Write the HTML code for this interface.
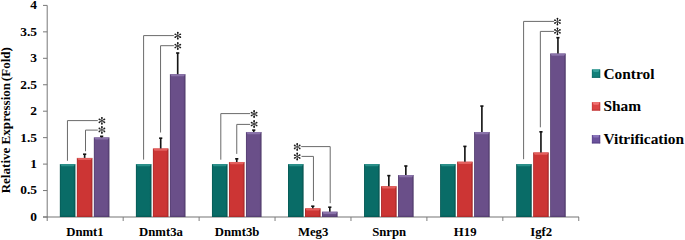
<!DOCTYPE html>
<html><head><meta charset="utf-8"><style>
html,body{margin:0;padding:0;background:#fff;width:685px;height:240px;overflow:hidden;}
svg{display:block;}
text{font-family:"Liberation Serif",serif;font-weight:bold;fill:#000;}
.yt{font-size:12px;}
.xt{font-size:12.5px;}
.ttl{font-size:12px;}
.lg{font-size:15.4px;}
</style></head><body>
<svg width="685" height="240" viewBox="0 0 685 240">
<defs><linearGradient id="gteal" x1="0" x2="1" y1="0" y2="0">
<stop offset="0" stop-color="#05504c"/><stop offset="0.07" stop-color="#096c67"/>
<stop offset="0.86" stop-color="#096c67"/><stop offset="1" stop-color="#05504c"/></linearGradient><linearGradient id="gred" x1="0" x2="1" y1="0" y2="0">
<stop offset="0" stop-color="#9e2626"/><stop offset="0.07" stop-color="#cc3534"/>
<stop offset="0.86" stop-color="#cc3534"/><stop offset="1" stop-color="#9e2626"/></linearGradient><linearGradient id="gpur" x1="0" x2="1" y1="0" y2="0">
<stop offset="0" stop-color="#4b3766"/><stop offset="0.07" stop-color="#6a4f89"/>
<stop offset="0.86" stop-color="#6a4f89"/><stop offset="1" stop-color="#4b3766"/></linearGradient><g id="st"><polygon points="-0.25,-0.00 0.25,0.00 0.55,-3.00 -0.55,-3.00" fill="#111"/><circle cx="0.00" cy="-3.00" r="0.9" fill="#111"/><polygon points="-0.12,-0.22 0.12,0.22 2.83,-1.00 2.28,-1.95" fill="#222"/><circle cx="2.55" cy="-1.47" r="0.85" fill="#222"/><polygon points="-0.12,0.22 0.12,-0.22 -2.28,-1.95 -2.83,-1.00" fill="#222"/><circle cx="-2.55" cy="-1.47" r="0.85" fill="#222"/><polygon points="0.13,0.22 -0.13,-0.22 -2.83,1.00 -2.28,1.95" fill="#222"/><circle cx="-2.55" cy="1.48" r="0.85" fill="#222"/><polygon points="0.25,0.00 -0.25,-0.00 -0.55,3.00 0.55,3.00" fill="#111"/><circle cx="-0.00" cy="3.00" r="0.9" fill="#111"/><polygon points="0.13,-0.22 -0.13,0.22 2.28,1.95 2.83,1.00" fill="#222"/><circle cx="2.55" cy="1.48" r="0.85" fill="#222"/></g></defs>
<line x1="43" y1="217.00" x2="579.0" y2="217.00" stroke="#a2a2a2" stroke-width="1.3"/><line x1="47.2" y1="5.40" x2="47.2" y2="221" stroke="#777777" stroke-width="1"/><line x1="43" y1="217.00" x2="47.2" y2="217.00" stroke="#777777" stroke-width="1"/><line x1="43" y1="190.55" x2="47.2" y2="190.55" stroke="#777777" stroke-width="1"/><line x1="43" y1="164.10" x2="47.2" y2="164.10" stroke="#777777" stroke-width="1"/><line x1="43" y1="137.65" x2="47.2" y2="137.65" stroke="#777777" stroke-width="1"/><line x1="43" y1="111.20" x2="47.2" y2="111.20" stroke="#777777" stroke-width="1"/><line x1="43" y1="84.75" x2="47.2" y2="84.75" stroke="#777777" stroke-width="1"/><line x1="43" y1="58.30" x2="47.2" y2="58.30" stroke="#777777" stroke-width="1"/><line x1="43" y1="31.85" x2="47.2" y2="31.85" stroke="#777777" stroke-width="1"/><line x1="43" y1="5.40" x2="47.2" y2="5.40" stroke="#777777" stroke-width="1"/><line x1="123.18" y1="217.00" x2="123.18" y2="221" stroke="#7e7e7e" stroke-width="1"/><line x1="199.11" y1="217.00" x2="199.11" y2="221" stroke="#7e7e7e" stroke-width="1"/><line x1="275.04" y1="217.00" x2="275.04" y2="221" stroke="#7e7e7e" stroke-width="1"/><line x1="350.97" y1="217.00" x2="350.97" y2="221" stroke="#7e7e7e" stroke-width="1"/><line x1="426.90" y1="217.00" x2="426.90" y2="221" stroke="#7e7e7e" stroke-width="1"/><line x1="502.83" y1="217.00" x2="502.83" y2="221" stroke="#7e7e7e" stroke-width="1"/><line x1="578.76" y1="217.00" x2="578.76" y2="221" stroke="#7e7e7e" stroke-width="1"/>
<rect x="59.84" y="164.10" width="15.6" height="52.90" fill="url(#gteal)"/><polygon points="60.14,164.10 75.14,164.10 73.84,166.30 61.45,166.30" fill="#2a8f89"/><polygon points="60.14,217.00 75.14,217.00 74.04,215.80 61.24,215.80" fill="#05504c" opacity="0.6"/><rect x="76.84" y="157.91" width="15.6" height="59.09" fill="url(#gred)"/><polygon points="77.14,157.91 92.14,157.91 90.84,160.11 78.44,160.11" fill="#e3605e"/><polygon points="77.14,217.00 92.14,217.00 91.04,215.80 78.25,215.80" fill="#9e2626" opacity="0.6"/><rect x="93.84" y="137.39" width="15.6" height="79.61" fill="url(#gpur)"/><polygon points="94.14,137.39 109.14,137.39 107.84,139.59 95.44,139.59" fill="#8a73aa"/><polygon points="94.14,217.00 109.14,217.00 108.04,215.80 95.25,215.80" fill="#4b3766" opacity="0.6"/><line x1="84.64" y1="154.21" x2="84.64" y2="157.91" stroke="#161616" stroke-width="1.65"/><line x1="83.05" y1="154.21" x2="86.24" y2="154.21" stroke="#111" stroke-width="1.6"/><line x1="101.64" y1="136.33" x2="101.64" y2="137.39" stroke="#161616" stroke-width="1.65"/><line x1="100.05" y1="136.33" x2="103.24" y2="136.33" stroke="#111" stroke-width="1.6"/><rect x="135.90" y="164.10" width="15.6" height="52.90" fill="url(#gteal)"/><polygon points="136.20,164.10 151.19,164.10 149.90,166.30 137.50,166.30" fill="#2a8f89"/><polygon points="136.20,217.00 151.19,217.00 150.09,215.80 137.30,215.80" fill="#05504c" opacity="0.6"/><rect x="152.90" y="148.49" width="15.6" height="68.51" fill="url(#gred)"/><polygon points="153.20,148.49 168.19,148.49 166.90,150.69 154.50,150.69" fill="#e3605e"/><polygon points="153.20,217.00 168.19,217.00 167.09,215.80 154.30,215.80" fill="#9e2626" opacity="0.6"/><rect x="169.90" y="74.17" width="15.6" height="142.83" fill="url(#gpur)"/><polygon points="170.20,74.17 185.19,74.17 183.90,76.37 171.50,76.37" fill="#8a73aa"/><polygon points="170.20,217.00 185.19,217.00 184.09,215.80 171.30,215.80" fill="#4b3766" opacity="0.6"/><line x1="160.70" y1="138.18" x2="160.70" y2="148.49" stroke="#161616" stroke-width="1.65"/><line x1="159.10" y1="138.18" x2="162.30" y2="138.18" stroke="#111" stroke-width="1.6"/><line x1="177.70" y1="53.01" x2="177.70" y2="74.17" stroke="#161616" stroke-width="1.65"/><line x1="176.10" y1="53.01" x2="179.30" y2="53.01" stroke="#111" stroke-width="1.6"/><rect x="211.95" y="164.10" width="15.6" height="52.90" fill="url(#gteal)"/><polygon points="212.25,164.10 227.25,164.10 225.95,166.30 213.55,166.30" fill="#2a8f89"/><polygon points="212.25,217.00 227.25,217.00 226.15,215.80 213.35,215.80" fill="#05504c" opacity="0.6"/><rect x="228.95" y="161.98" width="15.6" height="55.02" fill="url(#gred)"/><polygon points="229.25,161.98 244.25,161.98 242.95,164.18 230.55,164.18" fill="#e3605e"/><polygon points="229.25,217.00 244.25,217.00 243.15,215.80 230.35,215.80" fill="#9e2626" opacity="0.6"/><rect x="245.95" y="131.99" width="15.6" height="85.01" fill="url(#gpur)"/><polygon points="246.25,131.99 261.25,131.99 259.94,134.19 247.55,134.19" fill="#8a73aa"/><polygon points="246.25,217.00 261.25,217.00 260.15,215.80 247.35,215.80" fill="#4b3766" opacity="0.6"/><line x1="236.75" y1="158.81" x2="236.75" y2="161.98" stroke="#161616" stroke-width="1.65"/><line x1="235.15" y1="158.81" x2="238.35" y2="158.81" stroke="#111" stroke-width="1.6"/><line x1="253.75" y1="130.14" x2="253.75" y2="131.99" stroke="#161616" stroke-width="1.65"/><line x1="252.15" y1="130.14" x2="255.35" y2="130.14" stroke="#111" stroke-width="1.6"/><rect x="288.00" y="164.10" width="15.6" height="52.90" fill="url(#gteal)"/><polygon points="288.30,164.10 303.30,164.10 302.00,166.30 289.60,166.30" fill="#2a8f89"/><polygon points="288.30,217.00 303.30,217.00 302.20,215.80 289.39,215.80" fill="#05504c" opacity="0.6"/><rect x="305.00" y="208.32" width="15.6" height="8.68" fill="url(#gred)"/><polygon points="305.30,208.32 320.30,208.32 319.00,210.52 306.60,210.52" fill="#e3605e"/><polygon points="305.30,217.00 320.30,217.00 319.20,215.80 306.39,215.80" fill="#9e2626" opacity="0.6"/><rect x="322.00" y="211.71" width="15.6" height="5.29" fill="url(#gpur)"/><polygon points="322.30,211.71 337.30,211.71 336.00,213.91 323.60,213.91" fill="#8a73aa"/><polygon points="322.30,217.00 337.30,217.00 336.20,215.80 323.39,215.80" fill="#4b3766" opacity="0.6"/><line x1="312.80" y1="206.21" x2="312.80" y2="208.32" stroke="#161616" stroke-width="1.65"/><line x1="311.19" y1="206.21" x2="314.40" y2="206.21" stroke="#111" stroke-width="1.6"/><line x1="329.80" y1="207.21" x2="329.80" y2="211.71" stroke="#161616" stroke-width="1.65"/><line x1="328.19" y1="207.21" x2="331.40" y2="207.21" stroke="#111" stroke-width="1.6"/><rect x="364.04" y="164.10" width="15.6" height="52.90" fill="url(#gteal)"/><polygon points="364.34,164.10 379.34,164.10 378.04,166.30 365.64,166.30" fill="#2a8f89"/><polygon points="364.34,217.00 379.34,217.00 378.25,215.80 365.44,215.80" fill="#05504c" opacity="0.6"/><rect x="381.04" y="186.21" width="15.6" height="30.79" fill="url(#gred)"/><polygon points="381.34,186.21 396.34,186.21 395.04,188.41 382.64,188.41" fill="#e3605e"/><polygon points="381.34,217.00 396.34,217.00 395.25,215.80 382.44,215.80" fill="#9e2626" opacity="0.6"/><rect x="398.04" y="175.00" width="15.6" height="42.00" fill="url(#gpur)"/><polygon points="398.34,175.00 413.34,175.00 412.04,177.20 399.64,177.20" fill="#8a73aa"/><polygon points="398.34,217.00 413.34,217.00 412.25,215.80 399.44,215.80" fill="#4b3766" opacity="0.6"/><line x1="388.84" y1="175.63" x2="388.84" y2="186.21" stroke="#161616" stroke-width="1.65"/><line x1="387.24" y1="175.63" x2="390.44" y2="175.63" stroke="#111" stroke-width="1.6"/><line x1="405.84" y1="166.00" x2="405.84" y2="175.00" stroke="#161616" stroke-width="1.65"/><line x1="404.24" y1="166.00" x2="407.44" y2="166.00" stroke="#111" stroke-width="1.6"/><rect x="440.09" y="164.10" width="15.6" height="52.90" fill="url(#gteal)"/><polygon points="440.39,164.10 455.39,164.10 454.09,166.30 441.69,166.30" fill="#2a8f89"/><polygon points="440.39,217.00 455.39,217.00 454.30,215.80 441.49,215.80" fill="#05504c" opacity="0.6"/><rect x="457.09" y="161.72" width="15.6" height="55.28" fill="url(#gred)"/><polygon points="457.39,161.72 472.39,161.72 471.09,163.92 458.69,163.92" fill="#e3605e"/><polygon points="457.39,217.00 472.39,217.00 471.30,215.80 458.49,215.80" fill="#9e2626" opacity="0.6"/><rect x="474.09" y="131.99" width="15.6" height="85.01" fill="url(#gpur)"/><polygon points="474.39,131.99 489.39,131.99 488.09,134.19 475.69,134.19" fill="#8a73aa"/><polygon points="474.39,217.00 489.39,217.00 488.30,215.80 475.49,215.80" fill="#4b3766" opacity="0.6"/><line x1="464.89" y1="146.38" x2="464.89" y2="161.72" stroke="#161616" stroke-width="1.65"/><line x1="463.29" y1="146.38" x2="466.50" y2="146.38" stroke="#111" stroke-width="1.6"/><line x1="481.89" y1="106.07" x2="481.89" y2="131.99" stroke="#161616" stroke-width="1.65"/><line x1="480.29" y1="106.07" x2="483.50" y2="106.07" stroke="#111" stroke-width="1.6"/><rect x="516.14" y="164.10" width="15.6" height="52.90" fill="url(#gteal)"/><polygon points="516.44,164.10 531.45,164.10 530.14,166.30 517.75,166.30" fill="#2a8f89"/><polygon points="516.44,217.00 531.45,217.00 530.35,215.80 517.54,215.80" fill="#05504c" opacity="0.6"/><rect x="533.14" y="152.46" width="15.6" height="64.54" fill="url(#gred)"/><polygon points="533.44,152.46 548.45,152.46 547.14,154.66 534.75,154.66" fill="#e3605e"/><polygon points="533.44,217.00 548.45,217.00 547.35,215.80 534.54,215.80" fill="#9e2626" opacity="0.6"/><rect x="550.14" y="53.54" width="15.6" height="163.46" fill="url(#gpur)"/><polygon points="550.44,53.54 565.45,53.54 564.14,55.74 551.75,55.74" fill="#8a73aa"/><polygon points="550.44,217.00 565.45,217.00 564.35,215.80 551.54,215.80" fill="#4b3766" opacity="0.6"/><line x1="540.94" y1="131.83" x2="540.94" y2="152.46" stroke="#161616" stroke-width="1.65"/><line x1="539.34" y1="131.83" x2="542.54" y2="131.83" stroke="#111" stroke-width="1.6"/><line x1="557.94" y1="37.67" x2="557.94" y2="53.54" stroke="#161616" stroke-width="1.65"/><line x1="556.34" y1="37.67" x2="559.54" y2="37.67" stroke="#111" stroke-width="1.6"/><polyline points="67.45,160.8 67.45,120.6 97.8,120.6" fill="none" stroke="#6a6a6a" stroke-width="1"/><use href="#st" x="101.9" y="120.8"/><polyline points="85.5,151.25 85.5,130.1 97.8,130.1" fill="none" stroke="#6a6a6a" stroke-width="1"/><use href="#st" x="101.9" y="129.9"/><polyline points="143.6,159.6 143.6,35.6 173.9,35.6" fill="none" stroke="#6a6a6a" stroke-width="1"/><use href="#st" x="177.8" y="35.7"/><polyline points="160.55,132.5 160.55,45.7 173.9,45.7" fill="none" stroke="#6a6a6a" stroke-width="1"/><use href="#st" x="177.8" y="46.0"/><polyline points="220.8,159.7 220.8,113.6 250.1,113.6" fill="none" stroke="#6a6a6a" stroke-width="1"/><use href="#st" x="254.1" y="114.0"/><polyline points="236.75,153.9 236.75,124.4 250.1,124.4" fill="none" stroke="#6a6a6a" stroke-width="1"/><use href="#st" x="254.1" y="124.0"/><polyline points="330.2,203.2 330.2,146.6 301.2,146.6" fill="none" stroke="#6a6a6a" stroke-width="1"/><use href="#st" x="297.2" y="146.9"/><polyline points="313.45,201.0 313.45,156.4 301.5,156.4" fill="none" stroke="#6a6a6a" stroke-width="1"/><use href="#st" x="297.2" y="156.5"/><polyline points="523.6,159.2 523.6,21.4 554.0,21.4" fill="none" stroke="#6a6a6a" stroke-width="1"/><use href="#st" x="557.45" y="21.6"/><polyline points="540.35,127.3 540.35,31.4 554.0,31.4" fill="none" stroke="#6a6a6a" stroke-width="1"/><use href="#st" x="557.45" y="31.3"/>
<text transform="translate(37.0,220.85) scale(1.12,1.08)" text-anchor="end" class="yt">0</text><text transform="translate(37.0,194.40) scale(1.12,1.08)" text-anchor="end" class="yt">0.5</text><text transform="translate(37.0,167.95) scale(1.12,1.08)" text-anchor="end" class="yt">1</text><text transform="translate(37.0,141.50) scale(1.12,1.08)" text-anchor="end" class="yt">1.5</text><text transform="translate(37.0,115.05) scale(1.12,1.08)" text-anchor="end" class="yt">2</text><text transform="translate(37.0,88.60) scale(1.12,1.08)" text-anchor="end" class="yt">2.5</text><text transform="translate(37.0,62.15) scale(1.12,1.08)" text-anchor="end" class="yt">3</text><text transform="translate(37.0,35.70) scale(1.12,1.08)" text-anchor="end" class="yt">3.5</text><text transform="translate(37.0,9.25) scale(1.12,1.08)" text-anchor="end" class="yt">4</text><text transform="translate(84.95,236.1) scale(1.02,1.01)" text-anchor="middle" class="xt">Dnmt1</text><text transform="translate(161.00,236.1) scale(1.02,1.01)" text-anchor="middle" class="xt">Dnmt3a</text><text transform="translate(237.05,236.1) scale(1.02,1.01)" text-anchor="middle" class="xt">Dnmt3b</text><text transform="translate(313.09,236.1) scale(1.02,1.01)" text-anchor="middle" class="xt">Meg3</text><text transform="translate(389.14,236.1) scale(1.02,1.01)" text-anchor="middle" class="xt">Snrpn</text><text transform="translate(465.19,236.1) scale(1.02,1.01)" text-anchor="middle" class="xt">H19</text><text transform="translate(541.25,236.1) scale(1.02,1.01)" text-anchor="middle" class="xt">Igf2</text><text transform="translate(9.9,120.2) rotate(-90) scale(1.09,0.96)" text-anchor="middle" class="ttl">Relative Expression<tspan dx="1.6">(Fold)</tspan></text>
<rect x="591.9" y="69.40" width="8.3" height="8.4" fill="#12807a"/><polygon points="592.4,69.40 599.7,69.40 598.4,72.00 593.7,72.00" fill="#36a19b"/><rect x="591.9" y="76.80" width="8.3" height="1" fill="#0a605b" opacity="0.7"/><rect x="599.2" y="69.40" width="1" height="8.4" fill="#0a605b" opacity="0.5"/><rect x="591.9" y="69.40" width="0.8" height="8.4" fill="#0a605b" opacity="0.4"/><text x="603.4" y="78.60" class="lg">Control</text><rect x="591.9" y="102.20" width="8.3" height="8.4" fill="#dc4343"/><polygon points="592.4,102.20 599.7,102.20 598.4,104.80 593.7,104.80" fill="#f07272"/><rect x="591.9" y="109.60" width="8.3" height="1" fill="#b02f2f" opacity="0.7"/><rect x="599.2" y="102.20" width="1" height="8.4" fill="#b02f2f" opacity="0.5"/><rect x="591.9" y="102.20" width="0.8" height="8.4" fill="#b02f2f" opacity="0.4"/><text x="603.4" y="111.30" class="lg">Sham</text><rect x="591.9" y="135.00" width="8.3" height="8.4" fill="#6b529c"/><polygon points="592.4,135.00 599.7,135.00 598.4,137.60 593.7,137.60" fill="#8a75ba"/><rect x="591.9" y="142.40" width="8.3" height="1" fill="#4f3b7c" opacity="0.7"/><rect x="599.2" y="135.00" width="1" height="8.4" fill="#4f3b7c" opacity="0.5"/><rect x="591.9" y="135.00" width="0.8" height="8.4" fill="#4f3b7c" opacity="0.4"/><text x="603.4" y="144.30" class="lg">Vitrification</text>
</svg>
</body></html>
